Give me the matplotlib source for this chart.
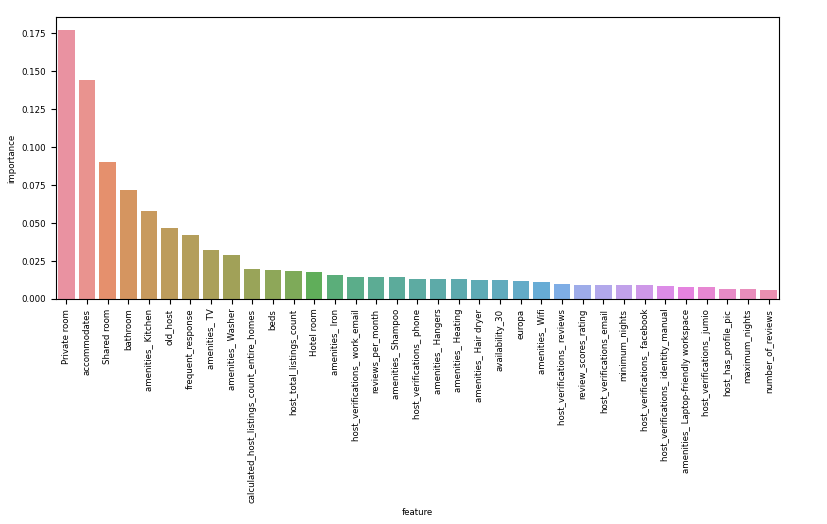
import numpy as np
import pandas as pd
import matplotlib
matplotlib.use("Agg")
import matplotlib.pyplot as plt
import seaborn as sns

features = [
    "Private room", "accommodates", "Shared room", "bathroom", "amenities_ Kitchen",
    "old_host", "frequent_response", "amenities_ TV", "amenities_ Washer",
    "calculated_host_listings_count_entire_homes", "beds", "host_total_listings_count",
    "Hotel room", "amenities_ Iron", "host_verifications_ work_email", "reviews_per_month",
    "amenities_ Shampoo", "host_verifications_ phone", "amenities_ Hangers",
    "amenities_ Heating", "amenities_ Hair dryer", "availability_30", "europa",
    "amenities_ Wifi", "host_verifications_ reviews", "review_scores_rating",
    "host_verifications_email", "minimum_nights", "host_verifications_ facebook",
    "host_verifications_ identity_manual", "amenities_ Laptop-friendly workspace",
    "host_verifications_ jumio", "host_has_profile_pic", "maximum_nights", "number_of_reviews",
]
importance = [
    0.1768, 0.1441, 0.0899, 0.0717, 0.0581, 0.0465, 0.0419, 0.0324, 0.0289,
    0.0200, 0.0193, 0.0182, 0.0176, 0.0158, 0.0143, 0.0143, 0.0143, 0.0132,
    0.0132, 0.0132, 0.0125, 0.0125, 0.0121, 0.0114, 0.0101, 0.0094, 0.0090,
    0.0090, 0.0090, 0.0086, 0.0079, 0.0079, 0.0068, 0.0068, 0.0061,
]

df = pd.DataFrame({"feature": features, "importance": importance})

# husl palette, desaturated like seaborn bars, then a bit washed out
pal = [sns.desaturate(c, 0.75) for c in sns.color_palette("husl", len(features))]
pal = [tuple(0.87 * np.array(c) + 0.13) for c in pal]

fig = plt.figure(figsize=(8.28, 5.24), dpi=100)
ax = fig.add_axes([0.0676, 0.4294, 0.8732, 0.5382])
sns.barplot(data=df, x="feature", y="importance", hue="feature",
            palette=pal, saturation=1, legend=False, ax=ax)
ax.tick_params(axis="x", labelrotation=90, labelsize=6.2)
ax.tick_params(axis="y", labelsize=6.2)
ax.set_xlabel("feature", fontsize=6.2)
ax.set_ylabel("importance", fontsize=6.2)

fig.savefig("out.png", dpi=100)
